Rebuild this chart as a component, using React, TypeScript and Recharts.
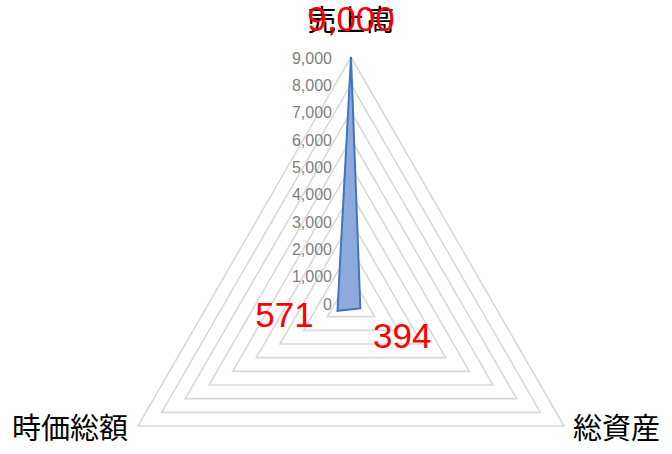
import { RadarChart, Radar, PolarGrid, PolarAngleAxis, PolarRadiusAxis, LabelList } from 'recharts';

const categories = ['売上高', '総資産', '時価総額'];
const values = [9000, 394, 571];
const radiusTicks = [0, 1000, 2000, 3000, 4000, 5000, 6000, 7000, 8000, 9000];

const data = categories.map((name, i) => ({ name, value: values[i] }));

const CX = 351;
const CY = 303;
const jp = '"Noto Sans CJK JP", "Noto Sans", sans-serif';
const num = '"Liberation Sans", Arial, sans-serif';

// category label next to each vertex
const AngleTick = (props: any) => {
  const { x, y, payload } = props;
  let anchor = 'middle';
  let dx = 0;
  let dy = -4;
  if (y < CY) {
    dy = -31;
  } else if (x < CX) {
    anchor = 'end';
    dx = -3;
  } else {
    anchor = 'start';
    dx = 2;
  }
  return (
    <text
      x={x + dx}
      y={y + dy}
      textAnchor={anchor}
      dominantBaseline="central"
      fontFamily={jp}
      fontSize={29}
      fill="#000"
    >
      {payload.value}
    </text>
  );
};

const RadiusTick = (props: any) => {
  const { x, y, payload } = props;
  return (
    <text
      x={x - 19}
      y={y + 1}
      textAnchor="end"
      dominantBaseline="central"
      fontFamily={num}
      fontSize={16}
      fill="#7F7F7F"
    >
      {Number(payload.value).toLocaleString('en-US')}
    </text>
  );
};

// red value labels
const ValueLabel = (props: any) => {
  const { x, y, value } = props;
  let dx = 0;
  let dy = -39;
  if (y > CY && x > CX) {
    dx = 42;
    dy = 27;
  } else if (y > CY && x < CX) {
    dx = -53;
    dy = 4;
  }
  return (
    <text
      x={x + dx}
      y={y + dy}
      textAnchor="middle"
      dominantBaseline="central"
      fontFamily={num}
      fontSize={35}
      fill="#FF0000"
    >
      {Number(value).toLocaleString('en-US')}
    </text>
  );
};

export default function App() {
  return (
    <div style={{ position: 'absolute', left: 0, top: 0, background: '#fff' }}>
      <RadarChart
        width={672}
        height={454}
        data={data}
        cx={CX}
        cy={CY}
        outerRadius={246}
        startAngle={90}
        endAngle={-270}
        margin={{ top: 0, right: 0, bottom: 0, left: 0 }}
      >
        <PolarGrid gridType="polygon" radialLines={false} stroke="#D9D9D9" strokeWidth={1.6} />
        <PolarAngleAxis dataKey="name" tick={<AngleTick />} axisLine={false} tickLine={false} />
        <PolarRadiusAxis
          angle={90}
          domain={[0, 9000]}
          ticks={radiusTicks}
          tickCount={10}
          axisLine={false}
          tickLine={false}
          tick={<RadiusTick />}
        />
        <Radar
          dataKey="value"
          stroke="#4472C4"
          strokeWidth={2}
          fill="#8FA9DC"
          fillOpacity={1}
          isAnimationActive={false}
        >
          <LabelList dataKey="value" content={<ValueLabel />} />
        </Radar>
      </RadarChart>
    </div>
  );
}
